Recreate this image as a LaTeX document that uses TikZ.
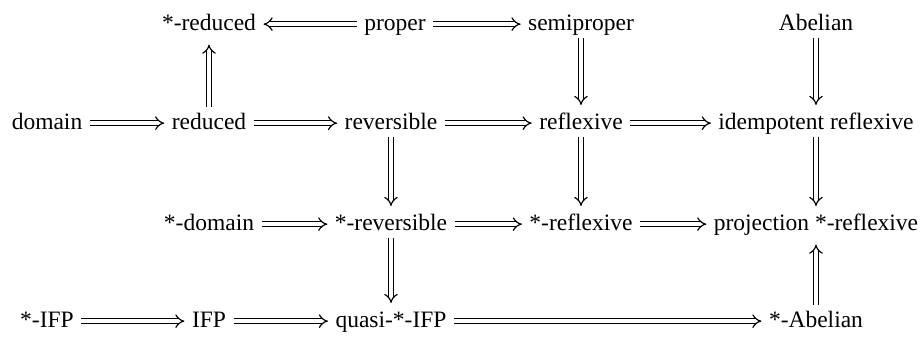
\documentclass[tikz,border=0pt]{standalone}
\usepackage{fontspec}
\setmainfont{Liberation Serif}
\usetikzlibrary{arrows.meta}
\begin{document}
\begin{tikzpicture}[x=0.4255pt, y=-0.4255pt,
  term/.style={inner xsep=3pt, inner ysep=1pt, text height=7pt, text depth=2pt,
    anchor=base, font=\fontsize{10}{12}\selectfont},
  imp/.style={double, double distance=1.5pt, line width=0.5pt,
    -{Implies[length=3.6pt, width=7.5pt]}},
  down/.style={imp, shorten >=2pt},
  up/.style={imp, shorten <=1pt, shorten >=3pt},
]
\useasboundingbox (0,0) rectangle (921,336);

% column positions and row baselines
\def\ca{47}\def\cb{209}\def\cc{391}\def\cd{581}\def\ce{816}
\def\ra{30}\def\rb{129}\def\rc{230}\def\rd{327}

% first row
\node[term] (sred)   at (\cb,\ra) {*-reduced};
\node[term] (proper) at (\cc+4,\ra) {proper};
\node[term] (semi)   at (\cd,\ra) {semiproper};
\node[term] (abel)   at (\ce,\ra) {Abelian};

% second row
\node[term] (domain) at (\ca,\rb) {domain};
\node[term] (red)    at (\cb,\rb) {reduced};
\node[term] (rev)    at (\cc,\rb) {reversible};
\node[term] (refl)   at (\cd,\rb) {reflexive};
\node[term] (idem)   at (\ce,\rb) {idempotent reflexive};

% third row
\node[term] (sdom)   at (\cb,\rc) {*-domain};
\node[term] (srev)   at (\cc,\rc) {*-reversible};
\node[term] (srefl)  at (\cd,\rc) {*-reflexive};
\node[term] (proj)   at (\ce,\rc) {projection *-reflexive};

% fourth row
\node[term] (sifp)   at (\ca,\rd) {*-IFP};
\node[term] (ifp)    at (\cb,\rd) {IFP};
\node[term] (qifp)   at (\cc,\rd) {quasi-*-IFP};
\node[term] (sabel)  at (\ce,\rd) {*-Abelian};

% horizontal implications
\draw[imp] (proper) -- (sred);
\draw[imp] (proper) -- (semi);
\draw[imp] (domain) -- (red);
\draw[imp] (red) -- (rev);
\draw[imp] (rev) -- (refl);
\draw[imp] (refl) -- (idem);
\draw[imp] (sdom) -- (srev);
\draw[imp] (srev) -- (srefl);
\draw[imp] (srefl) -- (proj);
\draw[imp] (sifp) -- (ifp);
\draw[imp] (ifp) -- (qifp);
\draw[imp] (qifp) -- (sabel);

% vertical implications
\draw[up]   (red) -- (sred);
\draw[down] (semi) -- (refl);
\draw[down] (abel) -- (idem);
\draw[down] (rev) -- (srev);
\draw[down] (refl) -- (srefl);
\draw[down] (idem) -- (proj);
\draw[down] (srev) -- (qifp);
\draw[up]   (sabel) -- (proj);
\end{tikzpicture}
\end{document}
